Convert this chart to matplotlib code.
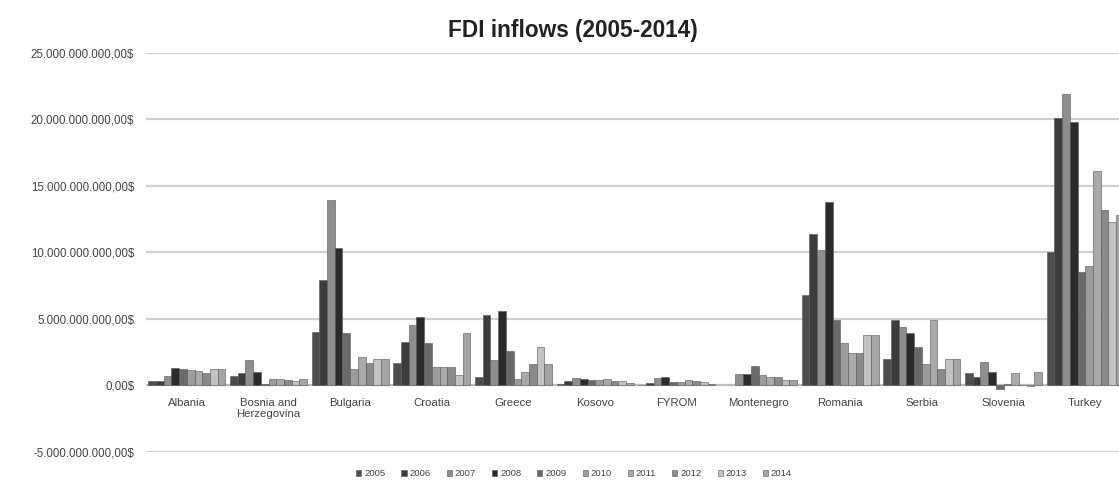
import numpy as np
import matplotlib
matplotlib.use('Agg')
import matplotlib.pyplot as plt
from matplotlib.ticker import FuncFormatter

# FDI inflows per country, in billions of $
countries = ['Albania', 'Bosnia and\nHerzegovina', 'Bulgaria', 'Croatia', 'Greece', 'Kosovo',
             'FYROM', 'Montenegro', 'Romania', 'Serbia', 'Slovenia', 'Turkey']
years = ['2005', '2006', '2007', '2008', '2009', '2010', '2011', '2012', '2013', '2014']

nan = np.nan
fdi_2005 = [0.30, 0.70, 4.0, 1.7, 0.6, 0.10, 0.05, nan, 6.8, 2.0, 0.9, 10.0]
fdi_2006 = [0.32, 0.95, 7.9, 3.25, 5.3, 0.30, 0.20, nan, 11.4, 4.9, 0.65, 20.1]
fdi_2007 = [0.70, 1.90, 13.9, 4.5, 1.9, 0.55, 0.55, 0.83, 10.2, 4.4, 1.75, 21.9]
fdi_2008 = [1.30, 1.00, 10.3, 5.1, 5.6, 0.50, 0.60, 0.83, 13.8, 3.95, 1.0, 19.8]
fdi_2009 = [1.25, 0.12, 3.9, 3.2, 2.6, 0.40, 0.25, 1.43, 4.9, 2.9, -0.3, 8.5]
fdi_2010 = [1.15, 0.45, 1.2, 1.4, 0.45, 0.40, 0.25, 0.75, 3.2, 1.6, 0.1, 9.0]
fdi_2011 = [1.07, 0.50, 2.1, 1.4, 1.0, 0.45, 0.40, 0.63, 2.45, 4.9, 0.9, 16.1]
fdi_2012 = [0.95, 0.40, 1.7, 1.4, 1.6, 0.30, 0.33, 0.63, 2.45, 1.2, 0.0, 13.2]
fdi_2013 = [1.25, 0.33, 2.0, 0.8, 2.9, 0.30, 0.25, 0.38, 3.8, 2.0, -0.05, 12.3]
fdi_2014 = [1.20, 0.50, 2.0, 3.9, 1.6, 0.20, 0.06, 0.43, 3.8, 2.0, 1.0, 12.8]

colors = ['#4d4d4d', '#3c3c3c', '#8e8e8e', '#2b2b2b', '#6a6a6a',
          '#9c9c9c', '#aaaaaa', '#8a8a8a', '#c2c2c2', '#a4a4a4']

series = [fdi_2005, fdi_2006, fdi_2007, fdi_2008, fdi_2009,
          fdi_2010, fdi_2011, fdi_2012, fdi_2013, fdi_2014]

plt.rcParams['font.family'] = ['Liberation Sans', 'DejaVu Sans']

fig = plt.figure(figsize=(11.19, 4.84), dpi=100)
ax = fig.add_axes([146 / 1119, 0.0667, 1 - 146 / 1119, 0.891 - 0.0667])

x = np.arange(len(countries))
w = 0.094
for j, (yr, vals) in enumerate(zip(years, series)):
    ax.bar(x + (j - 4.5) * w, np.array(vals) * 1e9, width=w, color=colors[j],
           edgecolor='#555555', linewidth=0.4, label=yr, zorder=3)

ax.set_xlim(-0.5, 11.414)
ax.set_ylim(-5e9, 25e9)
ax.set_yticks(np.arange(-5e9, 25.1e9, 5e9))


def money(v, pos):
    s = '{:,.2f}'.format(v)
    s = s.replace(',', 'X').replace('.', ',').replace('X', '.')
    return s + '$'


ax.yaxis.set_major_formatter(FuncFormatter(money))
ax.grid(axis='y', color='#d0d0d0', linewidth=1.6, zorder=0)
ax.axhline(0, color='#bdbdbd', linewidth=1.5, zorder=2)
for s in ax.spines.values():
    s.set_visible(False)
ax.tick_params(axis='y', length=0, labelsize=8.3, labelcolor='#444444', pad=8.5)

ax.set_xticks([])
for i, c in enumerate(countries):
    ax.text(i, -0.95e9, c, ha='center', va='top', fontsize=8.2, color='#444444',
            linespacing=1.15)

fig.text(0.512, 0.938, 'FDI inflows (2005-2014)', ha='center', va='center',
         fontsize=16.3, fontweight='bold', color='#222222')

leg = fig.legend(loc='center', bbox_to_anchor=(0.513, 0.021), ncol=10, frameon=False,
                 fontsize=6.8, handlelength=0.55, handleheight=0.55, handletextpad=0.3,
                 columnspacing=1.7)
for t in leg.get_texts():
    t.set_color('#444444')

fig.savefig('out.png', dpi=100)
